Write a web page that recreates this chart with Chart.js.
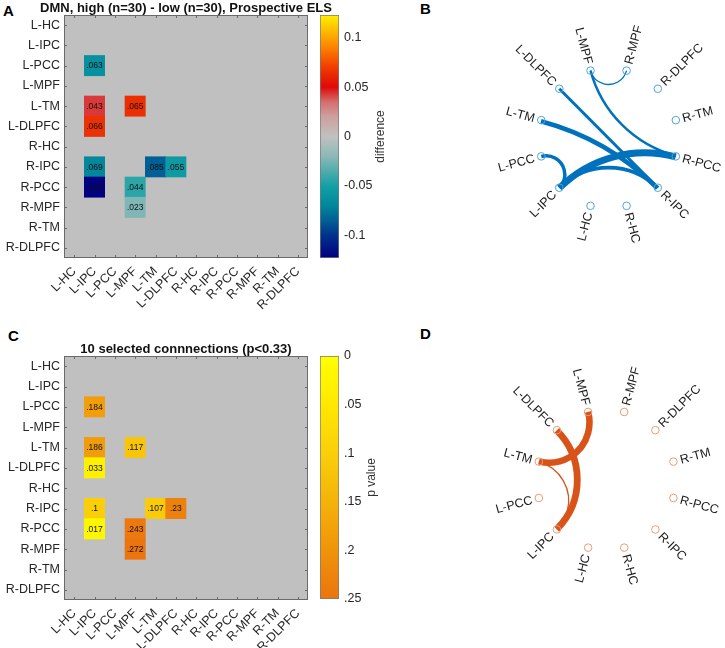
<!DOCTYPE html>
<html><head><meta charset="utf-8">
<script src="https://cdn.jsdelivr.net/npm/chart.js@4.4.1/dist/chart.umd.min.js"></script>
<style>
html,body{margin:0;padding:0;width:725px;height:648px;overflow:hidden;background:#fff;font-family:'Liberation Sans',Arial,sans-serif;}
.box{position:absolute;}
.letter{position:absolute;font-weight:bold;font-size:15px;color:#000;line-height:16px;}
</style></head><body>
<div class="letter" style="left:3px;top:3px">A</div>
<div class="letter" style="left:420px;top:1px">B</div>
<div class="letter" style="left:8px;top:328px">C</div>
<div class="letter" style="left:420px;top:326px">D</div>

<div class="box" style="left:0;top:0;width:350px;height:310px"><canvas id="mA"></canvas></div>
<div class="box" style="left:300px;top:0;width:100px;height:270px"><canvas id="cbA"></canvas></div>
<div class="box" style="left:470px;top:0;width:255px;height:290px"><canvas id="chB"></canvas></div>

<div class="box" style="left:0;top:341px;width:350px;height:307px"><canvas id="mC"></canvas></div>
<div class="box" style="left:300px;top:341px;width:100px;height:270px"><canvas id="cbC"></canvas></div>
<div class="box" style="left:470px;top:330px;width:255px;height:318px"><canvas id="chD"></canvas></div>

<script>
// ---------------- DATA ----------------
const ROWS = ['L-HC','L-IPC','L-PCC','L-MPF','L-TM','L-DLPFC','R-HC','R-IPC','R-PCC','R-MPF','R-TM','R-DLPFC'];
const COLS = ['L-HC','L-IPC','L-PCC','L-MPF','L-TM','L-DLPFC','R-HC','R-IPC','R-PCC','R-MPF','R-TM','R-DLPFC'];
const CELL_ROW = ['L-PCC','L-TM','L-TM','L-DLPFC','R-IPC','R-IPC','R-IPC','R-PCC','R-PCC','R-MPF'];
const CELL_COL = ['L-IPC','L-IPC','L-MPF','L-IPC','L-IPC','L-TM','L-DLPFC','L-IPC','L-MPF','L-MPF'];
const DIFF_VALUES = [-0.063, 0.043, 0.065, 0.066, -0.069, -0.085, -0.055, -0.123, -0.044, -0.023];
const P_VALUES = [0.184, 0.186, 0.117, 0.033, 0.1, 0.107, 0.23, 0.017, 0.243, 0.272];
const DIFF_TICKS = [-0.1, -0.05, 0, 0.05, 0.1];
const P_TICKS = [0, 0.05, 0.1, 0.15, 0.2, 0.25];
// nodes around the circle, clockwise starting just right of the top
const NODE_ORDER = ['R-MPF','R-DLPFC','R-TM','R-PCC','R-IPC','R-HC','L-HC','L-IPC','L-PCC','L-TM','L-DLPFC','L-MPF'];
const TITLE_A = 'DMN, high (n=30) - low (n=30), Prospective ELS';
const TITLE_C = '10 selected connnections (p<0.33)';

// ---------------- STYLE ----------------
Chart.defaults.font.family = "'Liberation Sans', Arial, sans-serif";
Chart.defaults.color = '#262626';
const DIFF_STOPS = [[-0.123,[0,0,128]],[-0.1,[0,50,140]],[-0.085,[0,95,148]],[-0.07,[0,135,155]],[-0.05,[20,160,165]],
  [-0.035,[80,172,172]],[-0.02,[140,184,184]],[0,[192,192,192]],[0.02,[205,160,160]],[0.035,[212,110,110]],
  [0.05,[222,10,10]],[0.07,[240,60,0]],[0.09,[252,130,0]],[0.123,[255,240,0]]];
const P_STOPS = [[0,[255,255,0]],[0.05,[255,232,0]],[0.1,[250,207,10]],[0.15,[245,178,10]],[0.2,[240,148,10]],[0.25,[235,116,15]]];

function cmap(stops, v){
  if (v <= stops[0][0]) return 'rgb(' + stops[0][1].join(',') + ')';
  for (let i = 1; i < stops.length; i++){
    if (v <= stops[i][0]){
      const a = stops[i-1], b = stops[i], t = (v - a[0]) / (b[0] - a[0]);
      return 'rgb(' + a[1].map((c,k)=>Math.round(c + (b[1][k]-c)*t)).join(',') + ')';
    }
  }
  return 'rgb(' + stops[stops.length-1][1].join(',') + ')';
}
const fmtShort = v => { const s = String(Number(Math.abs(v).toFixed(3))); return s.startsWith('0.') ? s.slice(1) : s; };

// ---------------- MATRIX ----------------
function matrixDeco(title){
  return {
    id: 'matrixDeco',
    beforeDatasetsDraw(chart){
      const {ctx, chartArea: a} = chart;
      ctx.save(); ctx.fillStyle = '#c0c0c0';
      ctx.fillRect(a.left, a.top, a.right - a.left, a.bottom - a.top);
      ctx.restore();
    },
    afterDatasetsDraw(chart){
      const {ctx, chartArea: a} = chart;
      const meta = chart.getDatasetMeta(0);
      const ds = chart.data.datasets[0];
      ctx.save();
      ctx.font = "8.5px 'Liberation Sans', Arial, sans-serif";
      ctx.fillStyle = '#111'; ctx.textAlign = 'center'; ctx.textBaseline = 'middle';
      meta.data.forEach((el, i) => {
        const c = el.getCenterPoint();
        ctx.fillText(ds.data[i].txt, c.x, c.y + 0.5);
      });
      // box + inward ticks
      ctx.strokeStyle = '#6a6a6a'; ctx.lineWidth = 1;
      ctx.strokeRect(a.left + 0.5, a.top + 0.5, a.right - a.left - 1, a.bottom - a.top - 1);
      const sx = chart.scales.x, sy = chart.scales.y;
      ctx.beginPath();
      COLS.forEach((c, i) => {
        const x = Math.round(sx.getPixelForValue(i)) + 0.5;
        ctx.moveTo(x, a.bottom); ctx.lineTo(x, a.bottom - 3);
        ctx.moveTo(x, a.top); ctx.lineTo(x, a.top + 3);
      });
      ROWS.forEach((r, i) => {
        const y = Math.round(sy.getPixelForValue(i)) + 0.5;
        ctx.moveTo(a.left, y); ctx.lineTo(a.left + 3, y);
        ctx.moveTo(a.right, y); ctx.lineTo(a.right - 3, y);
      });
      ctx.stroke();
      // title centred over the plot box
      ctx.font = "bold 13px 'Liberation Sans', Arial, sans-serif";
      ctx.fillStyle = '#111'; ctx.textAlign = 'center'; ctx.textBaseline = 'middle';
      ctx.fillText(title, (a.left + a.right) / 2, a.top - 7);
      ctx.restore();
    }
  };
}

function makeMatrix(id, title, values, stops, xAxisH){
  const data = values.map((v, i) => {
    const c = COLS.indexOf(CELL_COL[i]);
    return {y: CELL_ROW[i], x: [c - 0.5, c + 0.5], v: v, txt: fmtShort(v)};
  });
  return new Chart(document.getElementById(id), {
    type: 'bar',
    data: {labels: ROWS, datasets: [{data: data, backgroundColor: data.map(d => cmap(stops, d.v)),
      borderWidth: 0, barPercentage: 1, categoryPercentage: 1}]},
    options: {
      indexAxis: 'y', responsive: true, maintainAspectRatio: false, animation: false,
      layout: {padding: {left: 0, right: 42, top: 15, bottom: 0}},
      plugins: {legend: {display: false}, tooltip: {enabled: false}, title: {display: false}},
      scales: {
        y: {type: 'category', labels: ROWS, grid: {display: false, drawTicks: false}, border: {display: false},
          ticks: {font: {size: 12.5}, color: '#262626', padding: 4},
          afterFit: s => { s.width = 64; s.paddingTop = 0; s.paddingBottom = 0; }},
        x: {type: 'linear', min: -0.5, max: 11.5, grid: {display: false, drawTicks: false}, border: {display: false},
          afterBuildTicks: s => { s.ticks = COLS.map((c, i) => ({value: i})); },
          ticks: {autoSkip: false, minRotation: 45, maxRotation: 45, font: {size: 12.5}, color: '#262626', padding: 6,
            callback: v => COLS[v]},
          afterFit: s => { s.height = xAxisH; s.paddingLeft = 0; s.paddingRight = 0; }}
      }
    },
    plugins: [matrixDeco(title)]
  });
}

// ---------------- COLORBAR ----------------
function makeColorbar(id, min, max, reverse, stops, ticks, fmt, label, labelX){
  const lbl = {
    id: 'cbLabel',
    afterDraw(chart){
      const {ctx, chartArea: a} = chart;
      ctx.save();
      ctx.translate(labelX, (a.top + a.bottom) / 2);
      ctx.rotate(-Math.PI / 2);
      ctx.font = "12px 'Liberation Sans', Arial, sans-serif";
      ctx.fillStyle = '#333'; ctx.textAlign = 'center'; ctx.textBaseline = 'middle';
      ctx.fillText(label, 0, 0);
      ctx.restore();
    }
  };
  return new Chart(document.getElementById(id), {
    type: 'bar',
    data: {labels: [''], datasets: [{data: [[min, max]],
      backgroundColor: ctx => {
        const s = ctx.chart.scales.y;
        if (!s || !ctx.chart.chartArea) return '#ccc';
        const g = ctx.chart.ctx.createLinearGradient(0, s.getPixelForValue(min), 0, s.getPixelForValue(max));
        stops.forEach(st => g.addColorStop(Math.min(1, Math.max(0, (st[0] - min) / (max - min))), cmap(stops, st[0])));
        return g;
      },
      borderColor: '#7a7a7a', borderWidth: 1, borderSkipped: false, barPercentage: 1, categoryPercentage: 1}]},
    options: {
      responsive: true, maintainAspectRatio: false, animation: false,
      layout: {padding: {left: 20, right: 0, top: 15, bottom: 12}},
      plugins: {legend: {display: false}, tooltip: {enabled: false}},
      scales: {
        x: {display: false},
        y: {position: 'right', min: min, max: max, reverse: reverse, grid: {display: false, drawTicks: false}, border: {display: false},
          afterBuildTicks: s => { s.ticks = ticks.map(v => ({value: v})); },
          ticks: {font: {size: 12.5}, color: '#262626', padding: 5, callback: fmt},
          afterFit: s => { s.width = 61; s.paddingTop = 0; s.paddingBottom = 0; }}
      }
    },
    plugins: [lbl]
  });
}

// ---------------- CHORD ----------------
function makeChord(id, cx, cy, left, top, W, H, R, values, sign, edgeColor, nodeColor){
  const xMin = -(cx - left) / R, xMax = (left + W - cx) / R;
  const yMax = (cy - top) / R, yMin = -(top + H - cy) / R;
  const ang = name => (15 + 30 * NODE_ORDER.indexOf(name)) * Math.PI / 180;
  const pos = name => ({x: Math.sin(ang(name)), y: Math.cos(ang(name))});
  const edges = [];
  values.forEach((v, i) => { if (Math.sign(v) === sign) edges.push({a: CELL_ROW[i], b: CELL_COL[i], m: Math.abs(v)}); });
  const mags = edges.map(e => e.m), mn = Math.min(...mags), mx = Math.max(...mags);
  const deco = {
    id: 'chord',
    beforeDatasetsDraw(chart){
      const ctx = chart.ctx, sx = chart.scales.x, sy = chart.scales.y;
      const px = (x, y) => [sx.getPixelForValue(x), sy.getPixelForValue(y)];
      ctx.save();
      ctx.strokeStyle = edgeColor; ctx.lineCap = 'butt';
      edges.slice().sort((p, q) => p.m - q.m).forEach(e => {
        const p = pos(e.a), q = pos(e.b);
        const dot = p.x * q.x + p.y * q.y;
        const [x1, y1] = px(p.x, p.y), [x2, y2] = px(q.x, q.y);
        ctx.lineWidth = 1.3 + (mx > mn ? (e.m - mn) / (mx - mn) : 1) * 5.5;
        ctx.beginPath();
        if (1 + dot < 1e-6) { ctx.moveTo(x1, y1); ctx.lineTo(x2, y2); }
        else {
          const ux = (p.x + q.x) / (1 + dot), uy = (p.y + q.y) / (1 + dot);
          const r = Math.sqrt(ux * ux + uy * uy - 1);
          const [ccx, ccy] = px(ux, uy);
          const rp = Math.abs(sx.getPixelForValue(r) - sx.getPixelForValue(0));
          const a1 = Math.atan2(y1 - ccy, x1 - ccx), a2 = Math.atan2(y2 - ccy, x2 - ccx);
          let d = a2 - a1;
          while (d > Math.PI) d -= 2 * Math.PI;
          while (d < -Math.PI) d += 2 * Math.PI;
          ctx.arc(ccx, ccy, rp, a1, a2, d < 0);
        }
        ctx.stroke();
      });
      ctx.restore();
    },
    afterDatasetsDraw(chart){
      const ctx = chart.ctx, sx = chart.scales.x, sy = chart.scales.y;
      ctx.save();
      ctx.font = "12.5px 'Liberation Sans', Arial, sans-serif";
      ctx.fillStyle = '#1a1a1a'; ctx.textBaseline = 'middle';
      NODE_ORDER.forEach(n => {
        const th = ang(n), p = pos(n);
        const x = sx.getPixelForValue(p.x) + 7 * Math.sin(th);
        const y = sy.getPixelForValue(p.y) - 7 * Math.cos(th);
        ctx.save(); ctx.translate(x, y);
        const deg = th * 180 / Math.PI;
        if (deg < 180) { ctx.rotate((deg - 90) * Math.PI / 180); ctx.textAlign = 'left'; }
        else { ctx.rotate((deg - 270) * Math.PI / 180); ctx.textAlign = 'right'; }
        ctx.fillText(n, 0, 0.5);
        ctx.restore();
      });
      ctx.restore();
    }
  };
  return new Chart(document.getElementById(id), {
    type: 'scatter',
    data: {datasets: [{data: NODE_ORDER.map(n => pos(n)), pointRadius: 3.8, pointBackgroundColor: 'rgba(255,255,255,0)',
      pointBorderColor: nodeColor, pointBorderWidth: 1}]},
    options: {
      responsive: true, maintainAspectRatio: false, animation: false,
      layout: {padding: 0},
      plugins: {legend: {display: false}, tooltip: {enabled: false}},
      scales: {x: {type: 'linear', min: xMin, max: xMax, display: false},
               y: {type: 'linear', min: yMin, max: yMax, display: false}}
    },
    plugins: [deco]
  });
}

// ---------------- BUILD ----------------
makeMatrix('mA', TITLE_A, DIFF_VALUES, DIFF_STOPS, 52);
makeColorbar('cbA', -0.123, 0.123, false, DIFF_STOPS, DIFF_TICKS, v => String(v), 'difference', 81);
makeChord('chB', 609, 138, 470, 0, 255, 290, 72.5, DIFF_VALUES, -1, '#0072BD', '#4fa3dc');

makeMatrix('mC', TITLE_C, P_VALUES, P_STOPS, 48);
makeColorbar('cbC', 0, 0.25, true, P_STOPS, P_TICKS, v => fmtShort(v), 'p value', 72);
makeChord('chD', 606.5, 479.5, 470, 330, 255, 318, 72.5, DIFF_VALUES, 1, '#D95319', '#ec9a74');
</script>
</body></html>
